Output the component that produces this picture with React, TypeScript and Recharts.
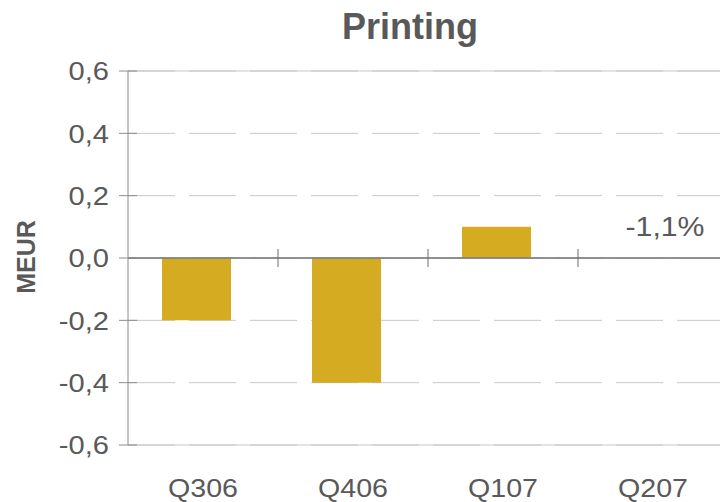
import { BarChart, Bar, XAxis, YAxis, CartesianGrid, ReferenceLine, ReferenceDot } from "recharts";

const quarters = ["Q306", "Q406", "Q107", "Q207"];
const meur = [-0.2, -0.4, 0.1, 0];
const spacer = [0, 0, 0, 0];
const noteQuarter = "Q207";
const noteText = "-1,1%";
const yTicks = [-0.6, -0.4, -0.2, 0, 0.2, 0.4, 0.6];
// quarters whose band start gets a tick on the zero line
const boundaries = ["Q406", "Q107", "Q207"];

const GOLD = "#D5AB21";
const TEXT = "#595959";
const FONT = "'Liberation Sans', Arial, sans-serif";

const data = quarters.map((q, i) => ({ q, meur: meur[i], spacer: spacer[i] }));

const fmt = (v: number) => v.toFixed(1).replace(".", ",");

// y tick: the label plus a short line crossing the axis
function YTick(props: any) {
  const { x, y, payload } = props;
  return (
    <g>
      <line x1={x + 12} x2={x + 30} y1={y} y2={y} stroke="#8c8c8c" strokeWidth={1} />
      <text transform={`translate(${x + 2}, ${y}) scale(1.12, 1)`} dy="0.36em" textAnchor="end"
        fill={TEXT} fontSize={26} fontFamily={FONT}>
        {fmt(payload.value)}
      </text>
    </g>
  );
}

function XTick(props: any) {
  const { x, y, payload } = props;
  return (
    <text transform={`translate(${x}, ${y}) scale(1.1, 1)`} dy="0.71em" textAnchor="middle"
      fill={TEXT} fontSize={26} fontFamily={FONT}>
      {payload.value}
    </text>
  );
}

function NoteLabel(props: any) {
  const { viewBox } = props;
  const cx = viewBox.x + (viewBox.width || 0) / 2;
  const cy = viewBox.y + (viewBox.height || 0) / 2;
  return (
    <text transform={`translate(${cx + 12}, ${cy - 22}) scale(1.08, 1)`} textAnchor="middle"
      fill={TEXT} fontSize={28} fontFamily={FONT}>
      {noteText}
    </text>
  );
}

function UnitLabel(props: any) {
  const { viewBox } = props;
  const x = viewBox.x + 35;
  const y = viewBox.y + viewBox.height / 2 - 1;
  return (
    <text x={x} y={y} transform={`rotate(-90, ${x}, ${y})`} textAnchor="middle"
      fill={TEXT} fontSize={25} fontWeight="bold" fontFamily={FONT}>
      MEUR
    </text>
  );
}

export default function App() {
  return (
    <div style={{ position: "absolute", left: 0, top: 0, width: 720, height: 502, overflow: "hidden", background: "#fff" }}>
      <div style={{
        position: "absolute", left: 0, top: 9, width: 820, textAlign: "center",
        fontFamily: FONT, fontWeight: "bold", fontSize: 36, lineHeight: "36px", color: TEXT,
      }}>
        Printing
      </div>
      <BarChart width={760} height={520} data={data} barGap={0}
        margin={{ top: 71, right: 32, bottom: 0, left: 0 }}>
        <CartesianGrid vertical={false} stroke="#c8c8c8" strokeDasharray="47 14" />
        <XAxis dataKey="q" height={75} axisLine={false} tickLine={false} tickSize={0} tickMargin={34}
          tick={<XTick />} interval={0} />
        <YAxis width={128} domain={[-0.6, 0.6]} ticks={yTicks} interval={0}
          axisLine={{ stroke: "#8c8c8c" }} tickLine={false} tickSize={9} tickMargin={12}
          tick={<YTick />} label={<UnitLabel />} />
        <ReferenceLine y={0.6} stroke="#c8c8c8" />
        <ReferenceLine y={-0.6} stroke="#c8c8c8" />
        <Bar dataKey="meur" fill={GOLD} barSize={69} isAnimationActive={false} />
        <Bar dataKey="spacer" fill="none" barSize={13} isAnimationActive={false} />
        <ReferenceLine y={0} stroke="#7f7f7f" strokeWidth={2} strokeOpacity={0.85} />
        {boundaries.map((b) => (
          <ReferenceLine key={b} position="start" stroke="#6d6d6d"
            segment={[{ x: b, y: 0.029 }, { x: b, y: -0.029 }]} />
        ))}
        <ReferenceDot x={noteQuarter} y={0} r={0} fill="none" stroke="none" label={<NoteLabel />} />
      </BarChart>
    </div>
  );
}
